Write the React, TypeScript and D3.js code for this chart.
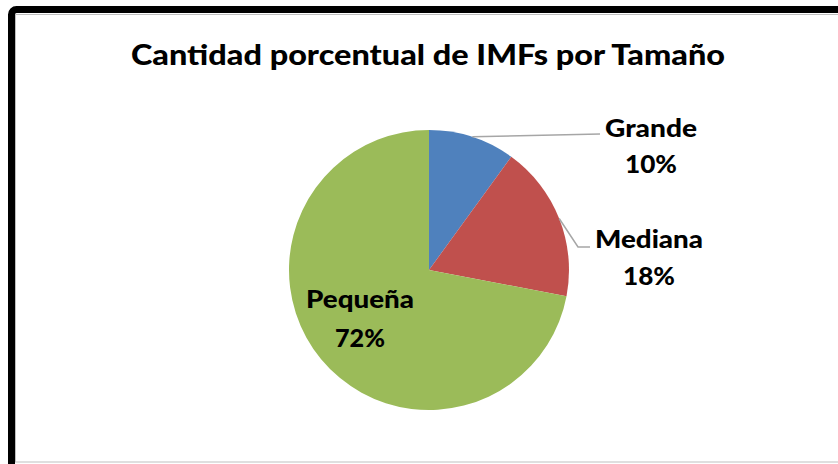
import React from "react";
import * as d3 from "d3";

const categories = ["Grande", "Mediana", "Pequeña"];
const values = [10, 18, 72];
const labels = ["10%", "18%", "72%"];
const colors = ["#4F81BD", "#C0504D", "#9BBB59"];
const title = "Cantidad porcentual de IMFs por Tamaño";

export default function App() {
  const W = 838, H = 464;
  const cx = 429, cy = 270, r = 140;
  const pie = d3.pie<number>().sort(null).value((d) => d)(values);
  const arc = d3.arc<d3.PieArcDatum<number>>().innerRadius(0).outerRadius(r);
  const font = "Lato, 'Open Sans', sans-serif";

  const labelPos = [
    { x: 651, y1: 137, y2: 173, w1: 92, w2: 52 },
    { x: 649, y1: 248, y2: 285, w1: 108, w2: 52 },
    { x: 360, y1: 308, y2: 347, w1: 108, w2: 50 },
  ];
  const pt = (a: number, rr: number) => [cx + rr * Math.sin(a), cy - rr * Math.cos(a)];
  const gA = pt((pie[0].startAngle + pie[0].endAngle) / 2, r);
  const mA = pt((pie[1].startAngle + pie[1].endAngle) / 2, r);

  return (
    <svg width={W} height={H} style={{ position: "absolute", left: 0, top: 0 }}>
      <rect x={0} y={0} width={W} height={H} fill="#fff" />
      <rect x={11.5} y={9.5} width={900} height={600} rx={5} fill="#fff" stroke="#000" strokeWidth={7} />
      <rect x={15.5} y={14.5} width={900} height={447.5} fill="#fff" stroke="#BFBFBF" strokeWidth={1} />
      <text x={428} y={65} textAnchor="middle" fontFamily={font} fontWeight={900} fontSize={29}
        textLength={594} lengthAdjust="spacingAndGlyphs" fill="#000">{title}</text>
      <g transform={`translate(${cx},${cy})`}>
        {pie.map((d, i) => (
          <path key={categories[i]} d={arc(d) || ""} fill={colors[i]} />
        ))}
      </g>
      <polyline points={`${gA[0]},${gA[1]} 600,134`} fill="none" stroke="#A6A6A6" strokeWidth={1.5} />
      <polyline points={`${mA[0]},${mA[1]} 578,247 590,247`} fill="none" stroke="#A6A6A6" strokeWidth={1.5} />
      {categories.map((c, i) => (
        <g key={c}>
          <text x={labelPos[i].x} y={labelPos[i].y1} textAnchor="middle" fontFamily={font} fontWeight={900}
            fontSize={24} textLength={labelPos[i].w1} lengthAdjust="spacingAndGlyphs" fill="#000">{c}</text>
          <text x={labelPos[i].x} y={labelPos[i].y2} textAnchor="middle" fontFamily={font} fontWeight={900}
            fontSize={24} textLength={labelPos[i].w2} lengthAdjust="spacingAndGlyphs" fill="#000">{labels[i]}</text>
        </g>
      ))}
    </svg>
  );
}
